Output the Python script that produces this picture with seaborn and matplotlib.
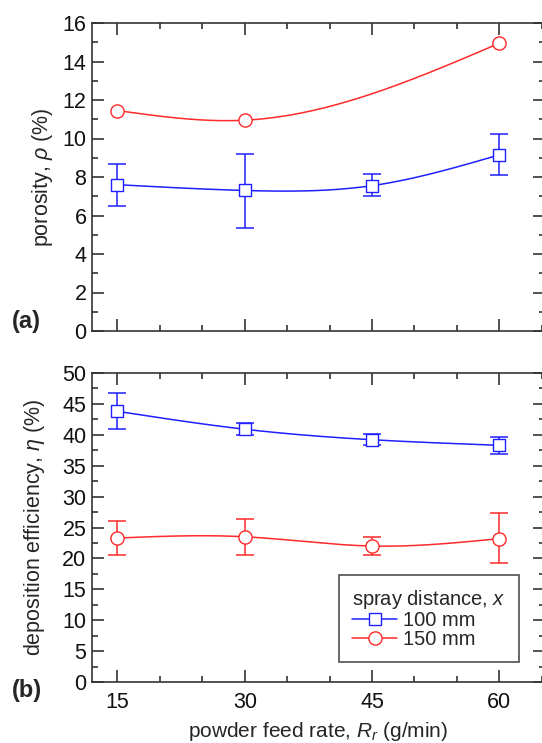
import numpy as np
import pandas as pd
import matplotlib
matplotlib.use("Agg")
import matplotlib.pyplot as plt
from matplotlib.ticker import MultipleLocator
import seaborn as sns

# ---- data ----
feed_rate = [15, 30, 45, 60]

por_100 = [7.6, 7.3, 7.55, 9.15]
por_100_lo = [6.5, 5.35, 7.0, 8.1]
por_100_hi = [8.7, 9.2, 8.15, 10.25]

feed_rate_150a = [15, 30, 60]
por_150 = [11.45, 10.95, 14.95]

de_100 = [43.8, 40.9, 39.2, 38.3]
de_100_lo = [41.0, 40.0, 38.3, 36.9]
de_100_hi = [46.7, 41.9, 40.1, 39.7]

de_150 = [23.3, 23.5, 22.0, 23.2]
de_150_lo = [20.6, 20.6, 20.6, 19.2]
de_150_hi = [26.0, 26.4, 23.4, 27.3]

labels = ["100 mm", "150 mm"]

sns.set_theme(style="ticks")
plt.rcParams["font.family"] = ["Liberation Sans", "DejaVu Sans"]
plt.rcParams["mathtext.fontset"] = "custom"
plt.rcParams["mathtext.rm"] = "Liberation Sans"
plt.rcParams["mathtext.it"] = "Liberation Sans:italic"

BLUE = "#1f1fff"
RED = "#ff2a2a"
FS = 15.5


def natural_spline(x, y, n=200):
    x = np.asarray(x, float)
    y = np.asarray(y, float)
    k = len(x)
    h = np.diff(x)
    A = np.zeros((k, k))
    b = np.zeros(k)
    A[0, 0] = 1
    A[-1, -1] = 1
    for i in range(1, k - 1):
        A[i, i - 1] = h[i - 1]
        A[i, i] = 2 * (h[i - 1] + h[i])
        A[i, i + 1] = h[i]
        b[i] = 6 * ((y[i + 1] - y[i]) / h[i] - (y[i] - y[i - 1]) / h[i - 1])
    M = np.linalg.solve(A, b)
    xs = np.linspace(x[0], x[-1], n)
    idx = np.clip(np.searchsorted(x, xs) - 1, 0, k - 2)
    x0, x1 = x[idx], x[idx + 1]
    hh = x1 - x0
    t0, t1 = x1 - xs, xs - x0
    ys = (M[idx] * t0 ** 3 / (6 * hh) + M[idx + 1] * t1 ** 3 / (6 * hh)
          + (y[idx] / hh - M[idx] * hh / 6) * t0
          + (y[idx + 1] / hh - M[idx + 1] * hh / 6) * t1)
    return xs, ys


W, H = 542, 743
fig = plt.figure(figsize=(W / 100, H / 100), dpi=100)
left = 92 / W
width = (545 - 92) / W
ax1 = fig.add_axes([left, 1 - 331 / H, width, (331 - 23) / H])
ax2 = fig.add_axes([left, 1 - 682 / H, width, (682 - 373) / H])

LW = 1.1
MS_SQ = 8.5
MS_CI = 9.5


def draw(ax, x, y, color, marker, ms, lo=None, hi=None, label=None):
    xs, ys = natural_spline(x, y)
    sns.lineplot(x=xs, y=ys, ax=ax, color=color, lw=LW, legend=False)
    if lo is not None:
        yerr = [np.array(y) - np.array(lo), np.array(hi) - np.array(y)]
        ax.errorbar(x, y, yerr=yerr, fmt="none", ecolor=color, elinewidth=LW,
                    capsize=6.5, capthick=LW, zorder=3)
    df = pd.DataFrame({"x": x, "y": y})
    sns.scatterplot(data=df, x="x", y="y", ax=ax, marker=marker, s=ms ** 2,
                    facecolor="white", edgecolor=color, linewidth=1.0,
                    zorder=4, legend=False)
    ax.plot([], [], color=color, lw=LW, marker=marker, ms=ms,
            mfc="white", mec=color, mew=1.0, label=label)


draw(ax1, feed_rate, por_100, BLUE, "s", MS_SQ, por_100_lo, por_100_hi)
draw(ax1, feed_rate_150a, por_150, RED, "o", MS_CI)
draw(ax2, feed_rate, de_100, BLUE, "s", MS_SQ, de_100_lo, de_100_hi, label=labels[0])
draw(ax2, feed_rate, de_150, RED, "o", MS_CI, de_150_lo, de_150_hi, label=labels[1])

xmax = 12 + 453 / (127.3 / 15)
for ax, (ylo, yhi), maj, mnr in [(ax1, (0, 16), 2, 1), (ax2, (0, 50), 5, 2.5)]:
    ax.set_xlim(12, xmax)
    ax.set_ylim(ylo, yhi)
    ax.xaxis.set_major_locator(MultipleLocator(15))
    ax.xaxis.set_minor_locator(MultipleLocator(5))
    ax.yaxis.set_major_locator(MultipleLocator(maj))
    ax.yaxis.set_minor_locator(MultipleLocator(mnr))
    ax.tick_params(which="both", direction="in", top=True, right=True,
                   colors="#333333", labelcolor="#111111", labelsize=FS)
    ax.tick_params(which="major", length=8.5, width=1.2)
    ax.tick_params(which="minor", length=4.5, width=1.2)
    ax.tick_params(axis="y", pad=4)
    ax.tick_params(axis="x", pad=7)
    for sp in ax.spines.values():
        sp.set_color("#333333")
        sp.set_linewidth(1.2)
    ax.set_xlabel("")
    ax.set_ylabel("")

ax1.set_xticklabels([])
ax2.set_xticks(feed_rate)
ax2.set_xticklabels([str(v) for v in feed_rate])

ax1.set_ylabel(r"porosity, $\it{\rho}$ (%)", fontsize=FS)
ax2.set_ylabel(r"deposition efficiency, $\it{\eta}$ (%)", fontsize=FS)
ax2.set_xlabel(r"powder feed rate, $\it{R}_r$ (g/min)", fontsize=15, labelpad=5.5)
ax1.yaxis.set_label_coords(-0.082, 0.5)
ax2.yaxis.set_label_coords(-0.10, 0.5)

fig.text(12 / W, 1 - 322 / H, "(a)", fontsize=17, fontweight="bold", va="center", ha="left")
fig.text(12 / W, 1 - 690 / H, "(b)", fontsize=17, fontweight="bold", va="center", ha="left")

leg = ax2.legend(title=r"spray distance, $\it{x}$", loc="lower right",
                 bbox_to_anchor=(0.943, 0.065), fontsize=14.5, title_fontsize=14.5,
                 frameon=True, fancybox=False, edgecolor="#222222",
                 handlelength=2.2, handletextpad=0.3, borderpad=0.65,
                 labelspacing=0.0, borderaxespad=0, alignment="left")
leg.get_frame().set_linewidth(1.2)

fig.savefig("out.png", dpi=100)
